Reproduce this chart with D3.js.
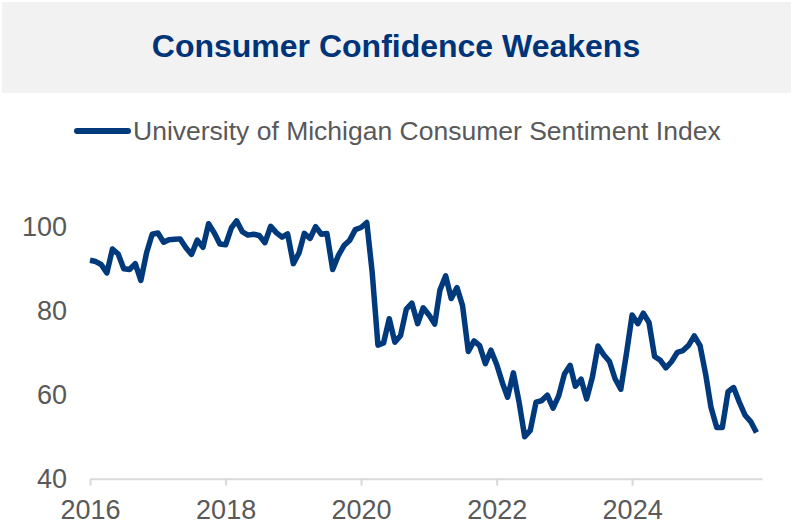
<!DOCTYPE html>
<html>
<head>
<meta charset="utf-8">
<script src="https://cdn.jsdelivr.net/npm/d3@7"></script>
<style>
  body { margin: 0; background: #fff; }
  svg { display: block; font-family: "Liberation Sans", Arial, sans-serif; }
</style>
</head>
<body>
<svg id="chart" width="795" height="526"></svg>
<script>
// monthly index values, Jan 2016 .. Nov 2025
var startMonth = "2016-01";
var sentiment = [
  92.0, 91.7, 91.0, 89.0, 94.7, 93.5, 90.0, 89.8, 91.2, 87.2, 93.8, 98.2,
  98.5, 96.3, 96.9, 97.0, 97.1, 95.0, 93.4, 96.8, 95.1, 100.7, 98.5, 95.9,
  95.7, 99.7, 101.4, 98.8, 98.0, 98.2, 97.9, 96.2, 100.1, 98.6, 97.5, 98.3,
  91.2, 93.8, 98.4, 97.2, 100.0, 98.2, 98.4, 89.8, 93.2, 95.5, 96.8, 99.3,
  99.8, 101.0, 89.1, 71.8, 72.3, 78.1, 72.5, 74.1, 80.4, 81.8, 76.9, 80.7,
  79.0, 76.8, 84.9, 88.3, 82.9, 85.5, 81.2, 70.3, 72.8, 71.7, 67.4, 70.6,
  67.2, 62.8, 59.4, 65.2, 58.4, 50.0, 51.5, 58.2, 58.6, 59.9, 56.8, 59.7,
  64.9, 67.0, 62.0, 63.7, 59.0, 64.2, 71.6, 69.5, 67.9, 63.8, 61.3, 69.7,
  79.0, 76.9, 79.4, 77.2, 69.1, 68.2, 66.4, 67.9, 70.1, 70.5, 71.8, 74.0,
  71.7, 64.7, 57.0, 52.2, 52.2, 60.7, 61.7, 58.2, 55.1, 53.6, 51.0
];
var yTicks = [40, 60, 80, 100];
var xTickYears = [2016, 2018, 2020, 2022, 2024];
var titleText = "Consumer Confidence Weakens";
var seriesName = "University of Michigan Consumer Sentiment Index";

var parseMonth = d3.timeParse("%Y-%m");
var first = parseMonth(startMonth);
var data = sentiment.map(function(v, i) {
  return {date: d3.timeMonth.offset(first, i), value: v};
});

var svg = d3.select("#chart");
var navy = "#003a7d", grey = "#595959";

// title band
svg.append("rect")
    .attr("x", 2).attr("y", 2).attr("width", 789).attr("height", 91)
    .attr("fill", "#f2f2f2");
svg.append("text")
    .attr("x", 396).attr("y", 57)
    .attr("text-anchor", "middle")
    .attr("font-size", 32).attr("font-weight", "bold")
    .attr("fill", "#003478")
    .text(titleText);

// legend
svg.append("line")
    .attr("x1", 77).attr("x2", 128).attr("y1", 131).attr("y2", 131)
    .attr("stroke", navy).attr("stroke-width", 6).attr("stroke-linecap", "round");
svg.append("text")
    .attr("x", 133).attr("y", 140)
    .attr("font-size", 26.5).attr("fill", grey)
    .text(seriesName);

var x = d3.scaleTime()
    .domain([first, d3.timeMonth.offset(first, 119)])
    .range([90, 762]);
var y = d3.scaleLinear().domain([40, 100]).range([478.7, 226.7]);

// x axis
var xAxis = svg.append("g")
    .attr("transform", "translate(0,478.7)")
    .call(d3.axisBottom(x)
      .tickValues(xTickYears.map(function(yr) { return new Date(yr, 0, 1); }))
      .tickFormat(d3.timeFormat("%Y"))
      .tickSize(7).tickPadding(14)
      .tickSizeOuter(0));
xAxis.select(".domain").attr("stroke", "#d9d9d9").attr("stroke-width", 2);
xAxis.selectAll(".tick line").attr("stroke", "#d9d9d9").attr("stroke-width", 2);
xAxis.selectAll(".tick text")
    .attr("font-size", 27).attr("fill", grey)
    .attr("font-family", "Liberation Sans, Arial, sans-serif");

// y axis labels only
var yAxis = svg.append("g")
    .attr("transform", "translate(67,0)")
    .call(d3.axisLeft(y).tickValues(yTicks).tickSize(0).tickPadding(0));
yAxis.select(".domain").remove();
yAxis.selectAll(".tick text")
    .attr("font-size", 27).attr("fill", grey)
    .attr("font-family", "Liberation Sans, Arial, sans-serif");

var line = d3.line()
    .x(function(d) { return x(d.date); })
    .y(function(d) { return y(d.value); });

svg.append("path")
    .datum(data)
    .attr("fill", "none")
    .attr("stroke", navy)
    .attr("stroke-width", 5.5)
    .attr("stroke-linejoin", "round")
    .attr("d", line);
</script>
</body>
</html>
